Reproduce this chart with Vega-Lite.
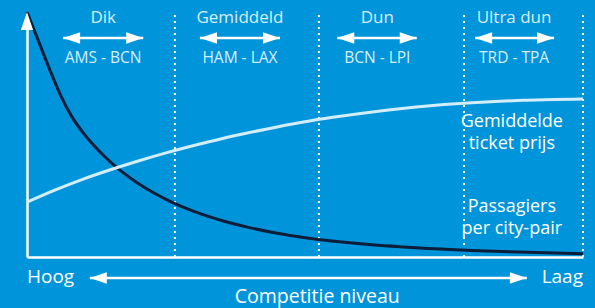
{
  "$schema": "https://vega.github.io/schema/vega-lite/v6.json",
  "width": 556,
  "height": 245,
  "autosize": {"type": "none"},
  "padding": {"left": 27, "top": 12, "right": 12, "bottom": 51},
  "background": "#0095DA",
  "config": {
    "view": {"stroke": null},
    "font": "Open Sans",
    "axis": {"domainColor": "white", "domainWidth": 2.5, "ticks": false, "labels": false, "grid": false, "title": null}
  },
  "datasets": {
    "curves": [
      {"series": "Passagiers", "x": 0, "y": 100},
      {"series": "Passagiers", "x": 2, "y": 88.5},
      {"series": "Passagiers", "x": 4, "y": 77},
      {"series": "Passagiers", "x": 6, "y": 66.2},
      {"series": "Passagiers", "x": 8, "y": 57.5},
      {"series": "Passagiers", "x": 10, "y": 51.0},
      {"series": "Passagiers", "x": 12, "y": 45.6},
      {"series": "Passagiers", "x": 14, "y": 40.9},
      {"series": "Passagiers", "x": 16, "y": 36.8},
      {"series": "Passagiers", "x": 18, "y": 33.2},
      {"series": "Passagiers", "x": 20, "y": 30.0},
      {"series": "Passagiers", "x": 23, "y": 25.9},
      {"series": "Passagiers", "x": 26, "y": 22.4},
      {"series": "Passagiers", "x": 30, "y": 18.6},
      {"series": "Passagiers", "x": 35, "y": 14.9},
      {"series": "Passagiers", "x": 40, "y": 12.0},
      {"series": "Passagiers", "x": 45, "y": 9.7},
      {"series": "Passagiers", "x": 50, "y": 7.9},
      {"series": "Passagiers", "x": 60, "y": 5.4},
      {"series": "Passagiers", "x": 70, "y": 3.8},
      {"series": "Passagiers", "x": 80, "y": 2.7},
      {"series": "Passagiers", "x": 90, "y": 1.9},
      {"series": "Passagiers", "x": 100, "y": 1.3},
      {"series": "Prijs", "x": 0, "y": 22.4},
      {"series": "Prijs", "x": 5, "y": 27.3},
      {"series": "Prijs", "x": 10, "y": 31.7},
      {"series": "Prijs", "x": 15, "y": 35.6},
      {"series": "Prijs", "x": 20, "y": 39.2},
      {"series": "Prijs", "x": 25, "y": 42.5},
      {"series": "Prijs", "x": 30, "y": 45.5},
      {"series": "Prijs", "x": 35, "y": 48.3},
      {"series": "Prijs", "x": 40, "y": 50.8},
      {"series": "Prijs", "x": 45, "y": 53.1},
      {"series": "Prijs", "x": 50, "y": 55.2},
      {"series": "Prijs", "x": 55, "y": 57.0},
      {"series": "Prijs", "x": 60, "y": 58.6},
      {"series": "Prijs", "x": 65, "y": 60.0},
      {"series": "Prijs", "x": 70, "y": 61.2},
      {"series": "Prijs", "x": 75, "y": 62.2},
      {"series": "Prijs", "x": 80, "y": 63.0},
      {"series": "Prijs", "x": 85, "y": 63.6},
      {"series": "Prijs", "x": 90, "y": 64.0},
      {"series": "Prijs", "x": 95, "y": 64.3},
      {"series": "Prijs", "x": 100, "y": 64.5}
    ],
    "dividers": [{"x": 26.6}, {"x": 52.5}, {"x": 78.6}, {"x": 100}],
    "arrows": [
      {"name": "Dik", "x1": 6.5, "x2": 20.9, "y": 89.4},
      {"name": "Gemiddeld", "x1": 31.1, "x2": 45.5, "y": 89.4},
      {"name": "Dun", "x1": 55.8, "x2": 70.1, "y": 89.4},
      {"name": "Ultra dun", "x1": 80.6, "x2": 94.8, "y": 89.4},
      {"name": "Competitie", "x1": 11.3, "x2": 89.9, "y": -8.6}
    ],
    "yarrow": [{"x": 0, "y": 100}],
    "labels": [
      {"role": "cat", "text": "Dik", "x": 13.7, "y": 97.6},
      {"role": "cat", "text": "Gemiddeld", "x": 38.3, "y": 97.6},
      {"role": "cat", "text": "Dun", "x": 63.0, "y": 97.6},
      {"role": "cat", "text": "Ultra dun", "x": 87.6, "y": 97.6},
      {"role": "pair", "text": "AMS - BCN", "x": 13.7, "y": 81.2},
      {"role": "pair", "text": "HAM - LAX", "x": 38.3, "y": 81.2},
      {"role": "pair", "text": "BCN - LPI", "x": 63.0, "y": 81.2},
      {"role": "pair", "text": "TRD - TPA", "x": 87.6, "y": 81.2},
      {"role": "side", "text": "Gemiddelde\nticket prijs", "x": 87.2, "y": 55.0},
      {"role": "side", "text": "Passagiers\nper city-pair", "x": 87.2, "y": 20.3},
      {"role": "left", "text": "Hoog", "x": 0, "y": -8.2},
      {"role": "right", "text": "Laag", "x": 100, "y": -8.2},
      {"role": "title", "text": "Competitie niveau", "x": 52.2, "y": -16.3}
    ]
  },
  "layer": [
    {
      "data": {"name": "dividers"},
      "mark": {"type": "rule", "color": "white", "strokeWidth": 2, "strokeDash": [2, 4]},
      "encoding": {
        "x": {"field": "x", "type": "quantitative", "scale": {"domain": [0, 100], "nice": false, "zero": false}},
        "y": {"datum": 0, "type": "quantitative", "scale": {"domain": [0, 100], "nice": false, "zero": false}},
        "y2": {"datum": 100}
      }
    },
    {
      "data": {"name": "curves"},
      "mark": {"type": "line", "interpolate": "monotone", "strokeWidth": 3},
      "encoding": {
        "x": {"field": "x", "type": "quantitative"},
        "y": {"field": "y", "type": "quantitative"},
        "color": {"field": "series", "type": "nominal", "scale": {"domain": ["Passagiers", "Prijs"], "range": ["#0B1D38", "#D3EDFA"]}, "legend": null}
      }
    },
    {
      "data": {"name": "arrows"},
      "mark": {"type": "rule", "color": "white", "strokeWidth": 2.5},
      "encoding": {
        "x": {"field": "x1", "type": "quantitative"},
        "x2": {"field": "x2"},
        "y": {"field": "y", "type": "quantitative"}
      }
    },
    {
      "data": {"name": "arrows"},
      "mark": {"type": "point", "filled": true, "opacity": 1, "color": "white", "size": 289, "shape": "M0,0L2,-0.68L2,0.68Z"},
      "encoding": {
        "x": {"field": "x1", "type": "quantitative"},
        "y": {"field": "y", "type": "quantitative"}
      }
    },
    {
      "data": {"name": "arrows"},
      "mark": {"type": "point", "filled": true, "opacity": 1, "color": "white", "size": 289, "shape": "M0,0L-2,-0.68L-2,0.68Z"},
      "encoding": {
        "x": {"field": "x2", "type": "quantitative"},
        "y": {"field": "y", "type": "quantitative"}
      }
    },
    {
      "data": {"name": "yarrow"},
      "mark": {"type": "point", "filled": true, "opacity": 1, "color": "white", "size": 324, "shape": "M0,0L-0.68,2L0.68,2Z"},
      "encoding": {
        "x": {"field": "x", "type": "quantitative"},
        "y": {"field": "y", "type": "quantitative"}
      }
    },
    {
      "data": {"name": "labels"},
      "transform": [{"filter": "datum.role === 'cat'"}],
      "mark": {"type": "text", "fontSize": 17, "color": "#D6EEFA", "align": "center", "baseline": "middle"},
      "encoding": {"x": {"field": "x", "type": "quantitative"}, "y": {"field": "y", "type": "quantitative"}, "text": {"field": "text"}}
    },
    {
      "data": {"name": "labels"},
      "transform": [{"filter": "datum.role === 'pair'"}],
      "mark": {"type": "text", "fontSize": 15.5, "color": "#D6EEFA", "align": "center", "baseline": "middle"},
      "encoding": {"x": {"field": "x", "type": "quantitative"}, "y": {"field": "y", "type": "quantitative"}, "text": {"field": "text"}}
    },
    {
      "data": {"name": "labels"},
      "transform": [{"filter": "datum.role === 'side'"}],
      "mark": {"type": "text", "fontSize": 18, "color": "white", "align": "center", "baseline": "middle", "lineBreak": "\n", "lineHeight": 21.6},
      "encoding": {"x": {"field": "x", "type": "quantitative"}, "y": {"field": "y", "type": "quantitative"}, "text": {"field": "text"}}
    },
    {
      "data": {"name": "labels"},
      "transform": [{"filter": "datum.role === 'left'"}],
      "mark": {"type": "text", "fontSize": 19, "color": "white", "align": "left", "baseline": "middle"},
      "encoding": {"x": {"field": "x", "type": "quantitative"}, "y": {"field": "y", "type": "quantitative"}, "text": {"field": "text"}}
    },
    {
      "data": {"name": "labels"},
      "transform": [{"filter": "datum.role === 'right'"}],
      "mark": {"type": "text", "fontSize": 19, "color": "white", "align": "right", "baseline": "middle"},
      "encoding": {"x": {"field": "x", "type": "quantitative"}, "y": {"field": "y", "type": "quantitative"}, "text": {"field": "text"}}
    },
    {
      "data": {"name": "labels"},
      "transform": [{"filter": "datum.role === 'title'"}],
      "mark": {"type": "text", "fontSize": 19.5, "color": "white", "align": "center", "baseline": "middle"},
      "encoding": {"x": {"field": "x", "type": "quantitative"}, "y": {"field": "y", "type": "quantitative"}, "text": {"field": "text"}}
    }
  ]
}
